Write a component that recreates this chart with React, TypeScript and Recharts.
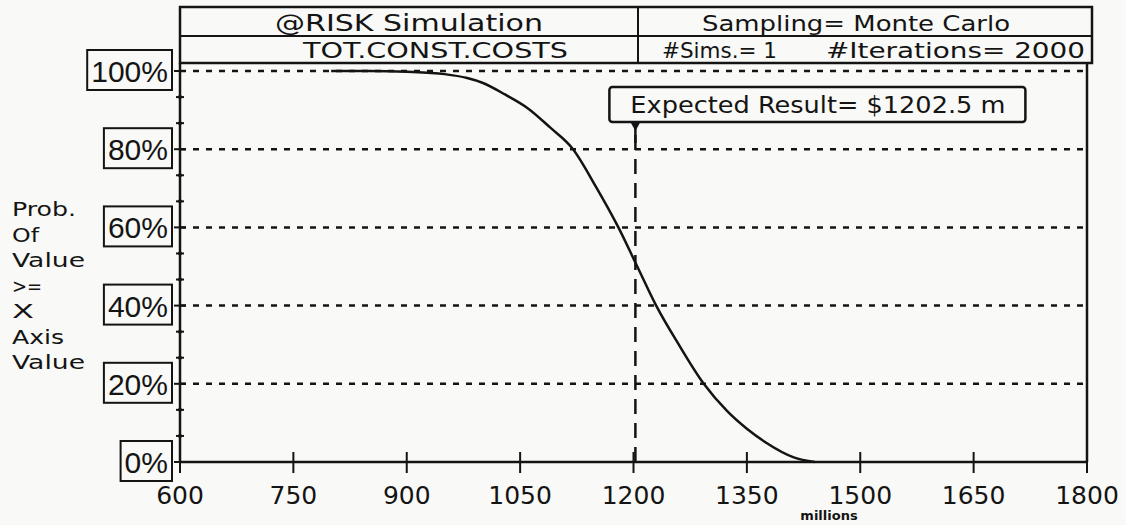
import React from "react";
import { LineChart, Line, XAxis, YAxis, ReferenceLine, ReferenceDot } from "recharts";

// cost (millions) vs probability of value >= x
const costValues = [800, 850, 900, 950, 980, 1000, 1030, 1060, 1090, 1120, 1150, 1180, 1205, 1230, 1260, 1293, 1324, 1350, 1375, 1412, 1440];
const exceedProb = [100, 100, 99.8, 99.2, 98.2, 97, 94, 90.5, 85.5, 80, 70.5, 60, 50, 40, 30, 20, 13, 8.5, 5, 1.2, 0];

const xTicks = [600, 750, 900, 1050, 1200, 1350, 1500, 1650, 1800];
const yMajorTicks = [0, 20, 40, 60, 80, 100];
const yAllTicks = [0, 6.667, 13.333, 20, 26.667, 33.333, 40, 46.667, 53.333, 60, 66.667, 73.333, 80, 86.667, 93.333, 100];
const gridLevels = [20, 40, 60, 80, 100];

const expectedResult = 1202.5;
const expectedLabel = "Expected Result= $1202.5 m";
const yTitleLines = ["Prob.", "Of", "Value", ">=", "X", "Axis", "Value"];
const yTitleWidths = [64, 27, 73, 30, 22, 52, 73];

const INK = "#141414";
const PAPER = "#f9f9f7";

const data = costValues.map((c, i) => ({ cost: c, prob: exceedProb[i] }));

const XTick = (props: any) => {
  const { x, y, payload } = props;
  return (
    <g>
      <line x1={x} x2={x} y1={y - 10} y2={y + 11} stroke={INK} strokeWidth={2} />
      <text x={x} y={y + 42} textAnchor="middle" fontSize={25} fontFamily="DejaVu Sans" fill={INK}>
        {payload.value}
      </text>
    </g>
  );
};

const LeftTick = (props: any) => {
  const { x, y, payload } = props;
  const v = payload.value;
  if (!yMajorTicks.includes(v)) {
    return (
      <g>
        <line x1={x - 4} x2={x + 4} y1={y} y2={y} stroke={INK} strokeWidth={2} />
        <circle cx={x} cy={y} r={2} fill={INK} />
      </g>
    );
  }
  const label = `${v}%`;
  const w = (label.length - 1) * 16.7 + 26.7 + 8;
  return (
    <g>
      <line x1={x - 6} x2={x + 6} y1={y} y2={y} stroke={INK} strokeWidth={2} />
      <rect x={x - 8 - w} y={y - 21} width={w} height={40} fill="none" stroke={INK} strokeWidth={2} />
      <text x={x - 8 - w / 2} y={y + 11} textAnchor="middle" fontSize={30} fontFamily="Liberation Sans" fill={INK}>
        {label}
      </text>
    </g>
  );
};

const RightTick = (props: any) => {
  const { x, y, payload } = props;
  const major = yMajorTicks.includes(payload.value);
  return (
    <g>
      <line x1={x - (major ? 7 : 4)} x2={x + (major ? 3 : 4)} y1={y} y2={y} stroke={INK} strokeWidth={2} />
      {!major && <circle cx={x} cy={y} r={2} fill={INK} />}
    </g>
  );
};

const Callout = (props: any) => {
  const { cx, cy } = props;
  return (
    <g>
      <rect x={cx - 26} y={cy + 16} width={416} height={35} rx={3} fill={PAPER} stroke={INK} strokeWidth={2.5} />
      <text x={cx - 5} y={cy + 42} fontSize={23} fontFamily="DejaVu Sans" fill={INK} textLength={375} lengthAdjust="spacingAndGlyphs">
        {expectedLabel}
      </text>
      <polygon points={`${cx - 5},${cy + 51} ${cx + 5},${cy + 51} ${cx},${cy + 60}`} fill={INK} />
      <line x1={cx} x2={cx} y1={cy + 51} y2={cy + 72} stroke={INK} strokeWidth={2.5} />
    </g>
  );
};

export default function App() {
  return (
    <div style={{ position: "absolute", left: 0, top: 0, width: 1126, height: 525, background: PAPER }}>
      <LineChart width={1126} height={525} data={data} margin={{ top: 71, right: 0, bottom: 0, left: 0 }}>
        <XAxis
          dataKey="cost"
          type="number"
          domain={[600, 1800]}
          ticks={xTicks}
          interval={0}
          tickSize={0}
          tickMargin={0}
          tick={XTick}
          height={63}
          axisLine={{ stroke: INK, strokeWidth: 2.5 }}
        />
        <YAxis
          yAxisId="left"
          type="number"
          domain={[0, 100]}
          ticks={yAllTicks}
          interval={0}
          tickSize={0}
          tickMargin={0}
          tick={LeftTick}
          width={180}
          axisLine={{ stroke: INK, strokeWidth: 2.5 }}
        />
        <YAxis
          yAxisId="right"
          orientation="right"
          type="number"
          domain={[0, 100]}
          ticks={yAllTicks}
          interval={0}
          tickSize={0}
          tickMargin={0}
          tick={RightTick}
          width={39}
          axisLine={{ stroke: INK, strokeWidth: 2.5 }}
        />
        {gridLevels.map((lv) => (
          <ReferenceLine key={lv} yAxisId="left" y={lv} stroke={INK} strokeWidth={2.5} strokeDasharray="6 7" />
        ))}
        <ReferenceLine
          yAxisId="left"
          segment={[{ x: expectedResult, y: 0 }, { x: expectedResult, y: 87 }]}
          stroke={INK}
          strokeWidth={2.5}
          strokeDasharray="15 9"
        />
        <Line
          yAxisId="left"
          dataKey="prob"
          type="monotone"
          stroke={INK}
          strokeWidth={2.5}
          dot={false}
          isAnimationActive={false}
        />
        <ReferenceDot yAxisId="left" x={expectedResult} y={100} r={0} shape={Callout} />
      </LineChart>
      <svg width={1126} height={525} style={{ position: "absolute", left: 0, top: 0, pointerEvents: "none" }}>
        <rect x={180} y={7} width={912} height={56} fill="none" stroke={INK} strokeWidth={2.5} />
        <line x1={180} x2={1092} y1={36} y2={36} stroke={INK} strokeWidth={2} />
        <line x1={638} x2={638} y1={7} y2={63} stroke={INK} strokeWidth={2} />
        <line x1={180} x2={180} y1={63} y2={71} stroke={INK} strokeWidth={2.5} />
        <line x1={1087} x2={1087} y1={63} y2={71} stroke={INK} strokeWidth={2.5} />
        <text x={275} y={31} fontSize={23} fontFamily="DejaVu Sans" fill={INK} textLength={268} lengthAdjust="spacingAndGlyphs">
          @RISK Simulation
        </text>
        <text x={303} y={58} fontSize={21} fontFamily="DejaVu Sans" fill={INK} textLength={265} lengthAdjust="spacingAndGlyphs">
          TOT.CONST.COSTS
        </text>
        <text x={702} y={31} fontSize={21} fontFamily="DejaVu Sans" fill={INK} textLength={308} lengthAdjust="spacingAndGlyphs">
          Sampling= Monte Carlo
        </text>
        <text x={662} y={58} fontSize={21} fontFamily="DejaVu Sans" fill={INK} textLength={115} lengthAdjust="spacingAndGlyphs">
          #Sims.= 1
        </text>
        <text x={826} y={58} fontSize={21} fontFamily="DejaVu Sans" fill={INK} textLength={259} lengthAdjust="spacingAndGlyphs">
          #Iterations= 2000
        </text>
        {yTitleLines.map((t, i) => (
          <text key={i} x={12} y={216 + i * 25.5} fontSize={19} fontFamily="DejaVu Sans" fill={INK} textLength={yTitleWidths[i]} lengthAdjust="spacingAndGlyphs">
            {t}
          </text>
        ))}
        <text x={829} y={520} textAnchor="middle" fontSize={13} fontWeight="bold" fontFamily="DejaVu Sans" fill={INK}>
          millions
        </text>
      </svg>
    </div>
  );
}
